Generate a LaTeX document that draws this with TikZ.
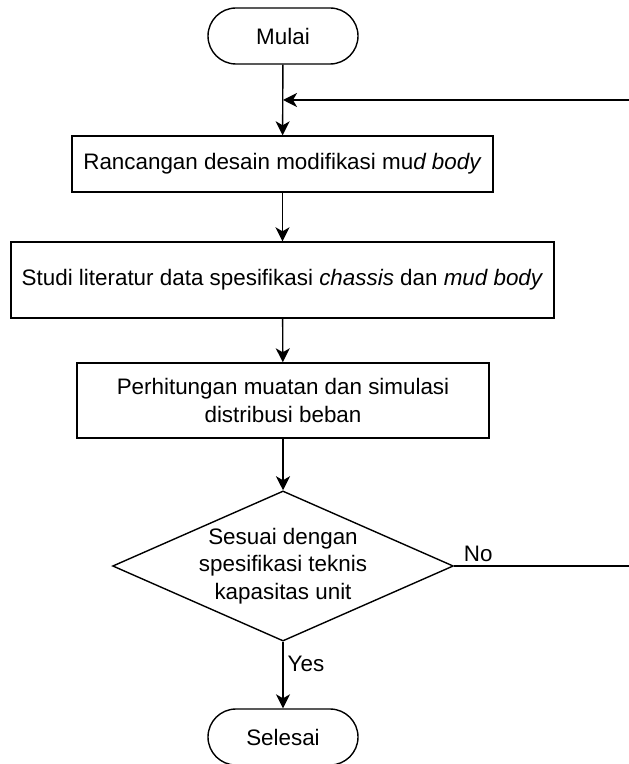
\documentclass[tikz,border=0pt]{standalone}
\usepackage{fontspec}
\setmainfont{Liberation Sans}
\usetikzlibrary{shapes.geometric,arrows.meta}
\tikzset{
	terminal/.style={draw,rectangle,rounded corners=14pt,minimum width=75pt,minimum height=28pt,inner sep=0pt},
	proses/.style={draw,rectangle,align=center,inner sep=0pt},
	keputusan/.style={draw,diamond,aspect=2.27,align=center,inner sep=0pt,minimum width=168pt,minimum height=74pt},
	panah/.style={-{Stealth[length=7pt,width=7pt,inset=2pt]}},
	ket/.style={inner sep=2pt}
}
\begin{document}
\begin{tikzpicture}[x=0.5pt,y=-0.5pt,line width=0.7pt,font=\fontsize{11.2}{13.8}\selectfont]
	\useasboundingbox (0,0) rectangle (628,764);
	\node[terminal] (mulai) at (283,36) {Mulai};
	\node[proses,minimum width=210.5pt,minimum height=28pt] (rancangan) at (282.5,164) {Rancangan desain modifikasi mu\textit{d body}};
	\node[proses,minimum width=271.5pt,minimum height=38pt] (studi) at (282.5,280) {Studi literatur data spesifikasi \textit{chassis} dan \textit{mud body}};
	\node[proses,minimum width=206pt,minimum height=37.5pt] (hitung) at (283,400.5) {Perhitungan muatan dan simulasi\\distribusi beban};
	\node[keputusan] (sesuai) at (283,566) {Sesuai dengan\\spesifikasi teknis\\kapasitas unit};
	\node[terminal] (selesai) at (283,737) {Selesai};
	\coordinate (gabung) at (283,100);
	\coordinate (kanan) at (640,566);
	\coordinate (balik) at (640,100);
	\draw[panah] (mulai) -- (rancangan);
	\draw[panah] (rancangan) -- (studi);
	\draw[panah] (studi) -- (hitung);
	\draw[panah] (hitung) -- (sesuai);
	\draw[panah] (sesuai) -- node[pos=0.33,right,ket] {Yes} (selesai);
	\draw[panah] (sesuai.east) -- node[pos=0.13,above,ket] {No} (kanan) -- (balik) -- (gabung);
\end{tikzpicture}
\end{document}
